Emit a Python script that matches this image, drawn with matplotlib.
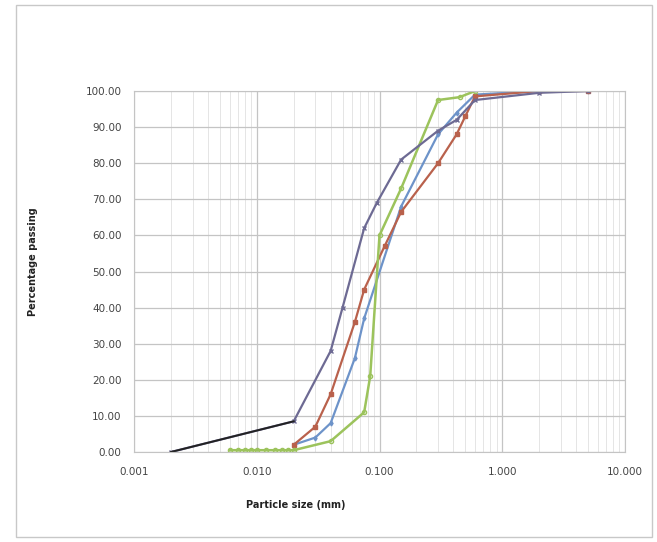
import numpy as np
import matplotlib
matplotlib.use('Agg')
import matplotlib.pyplot as plt
from matplotlib.ticker import FixedLocator, LogLocator, NullFormatter
from matplotlib.patches import Rectangle

# grading curves, size in mm vs percent passing
blue_size = [0.02, 0.03, 0.04, 0.063, 0.075, 0.15, 0.3, 0.425, 0.6, 2.0, 5.0]
blue_pass = [2.0, 4.0, 8.0, 26.0, 37.0, 68.0, 88.0, 94.0, 99.0, 100.0, 100.0]

red_size = [0.02, 0.03, 0.04, 0.063, 0.075, 0.11, 0.15, 0.3, 0.425, 0.5, 0.6, 2.0, 5.0]
red_pass = [2.0, 7.0, 16.0, 36.0, 45.0, 57.0, 66.5, 80.0, 88.0, 93.0, 98.5, 100.0, 100.0]

green_size = [0.006, 0.007, 0.008, 0.009, 0.01, 0.012, 0.014, 0.016, 0.018, 0.02,
              0.04, 0.075, 0.084, 0.1, 0.15, 0.3, 0.45, 0.6]
green_pass = [0.5, 0.5, 0.5, 0.5, 0.5, 0.5, 0.5, 0.5, 0.5, 0.5,
              3.0, 11.0, 21.0, 60.0, 73.0, 97.5, 98.3, 100.0]

purple_size = [0.002, 0.02, 0.04, 0.05, 0.075, 0.095, 0.15, 0.3, 0.425, 0.6, 2.0, 5.0]
purple_pass = [0.0, 8.5, 28.0, 40.0, 62.0, 69.0, 81.0, 89.0, 92.0, 97.5, 99.5, 100.0]

yticks = np.arange(0, 101, 10)
xticks = [0.001, 0.01, 0.1, 1, 10]
xlabels = ['0.001', '0.010', '0.100', '1.000', '10.000']

fig = plt.figure(figsize=(6.57, 5.42), dpi=100)
fig.patches.append(Rectangle((16/657, 5/542), 636/657, 532/542, transform=fig.transFigure,
                             fill=False, edgecolor='#c8c8c8', linewidth=1.0))
ax = fig.add_axes([134/657, 1-452/542, 491/657, 361/542])

ax.plot(blue_size, blue_pass, color='#6d93c9', lw=1.6, marker='d', ms=2.5)
ax.plot(red_size, red_pass, color='#b9614c', lw=1.6, marker='s', ms=2.2)
ax.plot(green_size, green_pass, color='#9cc35c', lw=1.8, marker='o', ms=3, mfc='none')
ax.plot(purple_size, purple_pass, color='#6d6a93', lw=1.6, marker='x', ms=3)
# first (hydrometer) segment drawn dark
ax.plot(purple_size[:2], purple_pass[:2], color='#222222', lw=1.4)

ax.set_xscale('log')
ax.set_xlim(0.001, 10)
ax.set_ylim(0, 100)
ax.xaxis.set_major_locator(FixedLocator(xticks))
ax.set_xticklabels(xlabels)
ax.xaxis.set_minor_locator(LogLocator(base=10, subs=np.arange(2, 10)))
ax.xaxis.set_minor_formatter(NullFormatter())
ax.set_yticks(yticks)
ax.set_yticklabels(['%.2f' % v for v in yticks])

ax.grid(which='major', color='#c4c4c4', lw=0.9)
ax.grid(which='minor', axis='x', color='#e0e0e0', lw=0.6)
ax.set_axisbelow(True)
for s in ax.spines.values():
    s.set_color('#c4c4c4')
ax.tick_params(which='both', length=0, labelsize=7.5, labelcolor='#444444')
ax.tick_params(axis='x', pad=11)
ax.tick_params(axis='y', pad=9)

fig.text(296/657, 1-505/542, 'Particle size (mm)', ha='center', va='center',
         fontsize=7, fontweight='bold', color='#222222')
fig.text(33/657, 1-262/542, 'Percentage passing', ha='center', va='center',
         rotation=90, fontsize=7, fontweight='bold', color='#222222')

fig.savefig('out.png', dpi=100, facecolor='white')
